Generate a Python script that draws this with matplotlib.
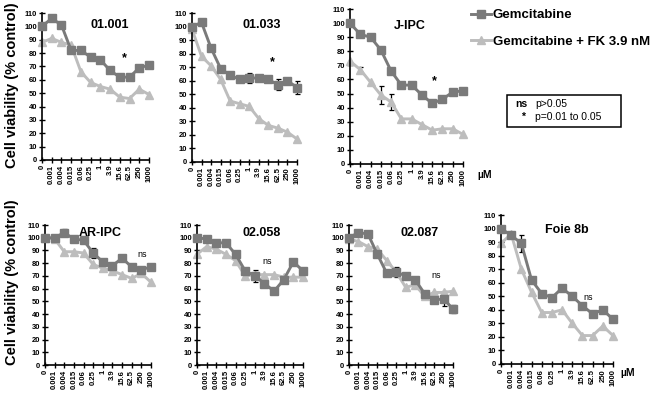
import numpy as np
import matplotlib.pyplot as plt
from matplotlib.patches import Rectangle

plt.rcParams['font.family'] = ['Liberation Sans', 'DejaVu Sans']
plt.rcParams['font.weight'] = 'bold'

# Gemcitabine doses (uM)
doses = ['0', '0.001', '0.004', '0.015', '0.06', '0.25', '1', '3.9', '15.6', '62.5', '250', '1000']

titles = ['01.001', '01.033', 'J-IPC', 'AR-IPC', '02.058', '02.087', 'Foie 8b']

# Gemcitabine alone (squares)
gem_01001 = [100, 106, 101, 82, 82, 77, 75, 67, 62, 62, 69, 71]
gem_01033 = [100, 103, 84, 69, 64, 61, 62, 62, 61, 57, 60, 55]
gem_jipc = [100, 92, 90, 81, 66, 56, 56, 49, 43, 46, 51, 52]
gem_aripc = [100, 100, 104, 99, 98, 88, 81, 78, 84, 77, 75, 77]
gem_02058 = [100, 99, 96, 96, 87, 74, 70, 64, 58, 67, 81, 74]
gem_02087 = [100, 104, 103, 87, 72, 73, 70, 67, 56, 51, 52, 44]
gem_foie8b = [100, 95, 89, 62, 52, 49, 56, 50, 43, 37, 40, 33]

# Gemcitabine + FK 3.9 nM (triangles)
fk_01001 = [88, 91, 88, 86, 66, 58, 55, 53, 47, 46, 53, 49]
fk_01033 = [98, 78, 71, 61, 45, 43, 41, 32, 27, 25, 22, 17]
fk_jipc = [73, 67, 58, 49, 44, 32, 32, 28, 24, 25, 25, 21]
fk_aripc = [100, 99, 89, 89, 88, 79, 76, 74, 71, 68, 72, 65]
fk_02058 = [87, 93, 91, 87, 82, 70, 71, 71, 71, 69, 69, 69]
fk_02087 = [99, 97, 93, 91, 82, 73, 61, 63, 54, 57, 57, 58]
fk_foie8b = [89, 96, 70, 53, 38, 38, 40, 30, 21, 21, 28, 21]

# error bars (only the visible ones)
gem_err = [
    [0] * 12,
    [0, 0, 0, 0, 0, 0, 4, 0, 0, 4, 0, 5],
    [0] * 12,
    [0, 0, 3, 0, 0, 4, 0, 0, 0, 0, 0, 0],
    [0, 0, 0, 0, 0, 0, 5, 0, 0, 0, 0, 0],
    [0, 0, 0, 0, 0, 4, 0, 0, 0, 0, 6, 3],
    [0, 0, 6, 0, 0, 0, 0, 0, 0, 0, 0, 2],
]
fk_err = [
    [0] * 12,
    [0] * 12,
    [0, 1.5, 0, 6.5, 6, 0, 0, 0, 0, 0, 0, 0],
    [0] * 12,
    [0] * 12,
    [0] * 12,
    [0] * 12,
]

# significance marks
sig_text = ['*', '*', '*', 'ns', 'ns', 'ns', 'ns']
sig_x = [8.5, 8.4, 8.2, 10.1, 7.3, 9.2, 8.6]
sig_y = [76, 74, 59, 87, 81, 70, 49]
title_x = [7.0, 7.3, 5.8, 5.7, 6.7, 7.5, 6.5]
title_y = [101, 101, 98, 104, 104, 104, 99]

gem_all = [gem_01001, gem_01033, gem_jipc, gem_aripc, gem_02058, gem_02087, gem_foie8b]
fk_all = [fk_01001, fk_01033, fk_jipc, fk_aripc, fk_02058, fk_02087, fk_foie8b]

W, H = 650, 404
# axes boxes in pixels: left, top, right, bottom
boxes = [(42, 13, 149, 160), (192, 13, 297, 162), (350, 9, 463, 164),
         (45, 225, 151, 365), (197, 225, 303, 365), (349, 225, 453, 365),
         (501, 215, 613, 364)]

dark = '#7a7a7a'
light = '#bdbdbd'

fig = plt.figure(figsize=(6.5, 4.04), dpi=100)

x = np.arange(len(doses))
handles = None
for i in range(7):
    l, t, r, b = boxes[i]
    ax = fig.add_axes([l / W, 1 - b / H, (r - l) / W, (b - t) / H])
    ge = np.array(gem_err[i])
    fe = np.array(fk_err[i])
    m = ge > 0
    ax.errorbar(x[m], np.array(gem_all[i])[m], yerr=ge[m], fmt='none', ecolor='black',
                elinewidth=0.9, capsize=1.8, capthick=0.9, zorder=1, clip_on=False)
    m = fe > 0
    ax.errorbar(x[m], np.array(fk_all[i])[m], yerr=fe[m], fmt='none', ecolor='black',
                elinewidth=0.9, capsize=1.8, capthick=0.9, zorder=1, clip_on=False)
    h1, = ax.plot(x, gem_all[i], color=dark, marker='s', markersize=5.8, linewidth=2.1,
                  clip_on=False, zorder=3, label='Gemcitabine')
    h2, = ax.plot(x, fk_all[i], color=light, marker='^', markersize=6.2, linewidth=2.1,
                  clip_on=False, zorder=2, label='Gemcitabine + FK 3.9 nM')
    if handles is None:
        handles = [h1, h2]

    ax.set_xlim(0, 11)
    ax.set_ylim(0, 110)
    ax.set_yticks(np.arange(0, 111, 10))
    ax.set_xticks(x)
    ax.set_xticklabels(doses, rotation=90)
    ax.tick_params(direction='inout', length=4, width=1.0, labelsize=5.5, pad=1.5)
    ax.spines['top'].set_visible(False)
    ax.spines['right'].set_visible(False)
    ax.spines['left'].set_linewidth(1.2)
    ax.spines['bottom'].set_linewidth(1.2)
    ax.patch.set_alpha(0)

    ax.text(title_x[i], title_y[i], titles[i], ha='center', va='center', fontsize=9)
    if sig_text[i] == '*':
        ax.text(sig_x[i], sig_y[i], '*', ha='center', va='center', fontsize=9)
    else:
        ax.text(sig_x[i], sig_y[i], 'ns', ha='center', va='center', fontsize=6.5,
                fontweight='normal')

# y labels
fig.text(12 / W, 1 - 85 / H, 'Cell viability (% control)', rotation=90,
         ha='center', va='center', fontsize=10.5)
fig.text(12 / W, 1 - 282 / H, 'Cell viability (% control)', rotation=90,
         ha='center', va='center', fontsize=10.5)

# uM units
fig.text(477 / W, 1 - 175 / H, 'µM', ha='left', va='center', fontsize=7.5)
fig.text(620 / W, 1 - 373 / H, 'µM', ha='left', va='center', fontsize=7.5)

# legend
fig.legend(handles=handles, loc='upper left', bbox_to_anchor=(471 / W, 1 - 9 / H),
           frameon=False, fontsize=9.5, handlelength=1.5, handletextpad=0.15,
           labelspacing=1.1, borderpad=0, borderaxespad=0)

# p-value box
fig.add_artist(Rectangle((507 / W, 1 - 127 / H), (621 - 507) / W, (127 - 95) / H,
                         transform=fig.transFigure, fill=False, edgecolor='black',
                         linewidth=1.1))
fig.text(515 / W, 1 - 104 / H, 'ns', ha='left', va='center', fontsize=7.5)
fig.text(535 / W, 1 - 104 / H, 'p>0.05', ha='left', va='center', fontsize=7.5,
         fontweight='normal')
fig.text(523 / W, 1 - 117 / H, '*', ha='center', va='center', fontsize=7.5)
fig.text(535 / W, 1 - 117 / H, 'p=0.01 to 0.05', ha='left', va='center', fontsize=7.5,
         fontweight='normal')

fig.savefig('out.png', dpi=100)
